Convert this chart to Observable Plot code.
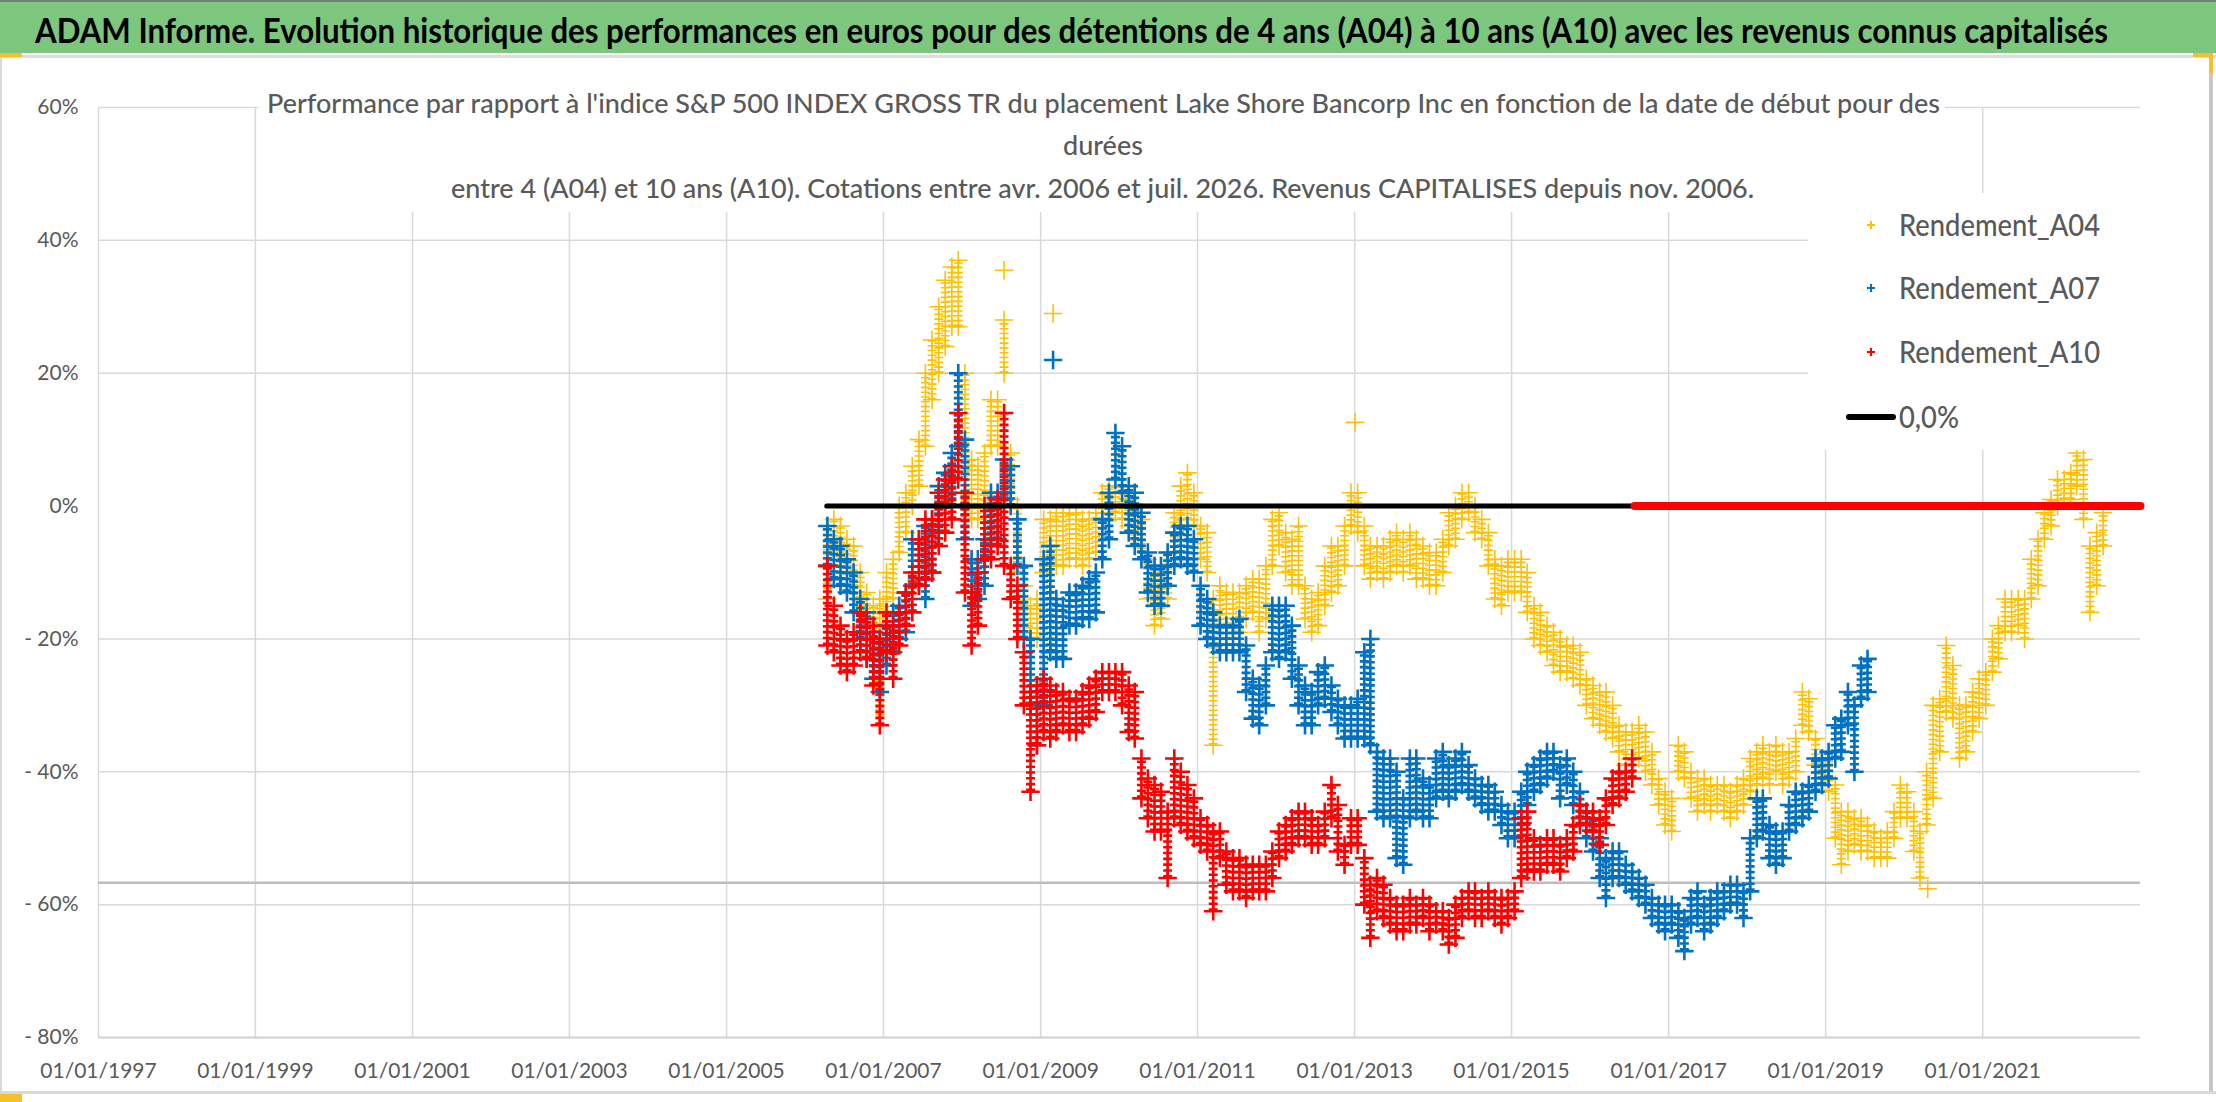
<!DOCTYPE html>
<html lang="fr">
<head>
<meta charset="utf-8">
<title>ADAM Informe – Lake Shore Bancorp Inc</title>
<script src="https://cdn.jsdelivr.net/npm/d3@7"></script>
<script src="https://cdn.jsdelivr.net/npm/@observablehq/plot@0.6"></script>
<style>
  html, body { margin: 0; padding: 0; background: #fff; }
  #frame { position: relative; width: 2216px; height: 1102px; overflow: hidden; background: #fff;
           font-family: Lato, "Open Sans", sans-serif; }
  #chart { position: absolute; left: 0; top: 0; }
  .box { position: absolute; background: #fff; }
  .label { position: absolute; white-space: nowrap; transform-origin: 0 0; }
  .line { position: absolute; }
</style>
</head>
<body>
<div id="frame">
  <div id="chart"></div>
</div>
<script>
// Monthly clouds: [lowest, highest] value in % for each month, from April 2006
const firstMonth = "2006-04-15";

const rendementA04 = [
  [-14,-3], [-9,-2], [-10,-3], [-11,-5], [-12,-6], [-16,-10], [-20,-13], [-22,-15], [-33,-14],
  [-16,-10], [-14,-8], [-7,0], [-4,2], [0,6], [3,10], [9,20], [16,25], [20,30], [24,34], [27,36], [27,37],
  [0,20], [-2,7], [-2,6], [0,8], [9,16], [9,16], [20,28], [1,8], [-10,0], [-18,-12], [-20,-15], [-20,-14],
  [-10,-2], [-9,-2], [-9,-1], [-9,-1], [-8,-1], [-8,-1], [-9,-2], [-8,-2], [-7,-1], [-2,2], [-2,3], [-1,3],
  [-2,2], [-3,1], [-6,0], [-8,-2], [-14,-8], [-18,-10], [-17,-10], [-14,-7], [-7,-1], [-3,3], [-2,5], [-3,2],
  [-8,-3], [-10,-4], [-36,-14], [-18,-12], [-20,-13], [-20,-13], [-19,-13], [-17,-12], [-16,-11], [-19,-11], [-17,-9], [-9,-2],
  [-6,-1], [-10,-4], [-12,-5], [-12,-3], [-17,-12], [-19,-14], [-18,-13], [-15,-9], [-13,-6], [-12,-6], [-9,-3], [-3,2],
  [-4,2], [-9,-3], [-11,-6], [-10,-6], [-11,-6], [-10,-5], [-9,-4], [-10,-5], [-9,-4], [-11,-5], [-11,-6], [-12,-7],
  [-12,-7], [-10,-5], [-6,-1], [-5,0], [-2,2], [-1,2], [-4,0], [-5,-2], [-9,-4], [-14,-8], [-15,-9], [-13,-8],
  [-13,-8], [-13,-8], [-16,-10], [-20,-15], [-21,-16], [-22,-18], [-24,-19], [-25,-20], [-25,-21], [-26,-21], [-27,-22], [-30,-26],
  [-32,-27], [-33,-28], [-34,-28], [-35,-30], [-37,-33], [-39,-34], [-39,-34], [-38,-33], [-40,-34], [-42,-37], [-45,-41], [-48,-43],
  [-49,-44], [-40,-36], [-41,-37], [-44,-40], [-46,-41], [-45,-41], [-46,-42], [-45,-42], [-46,-42], [-47,-43], [-46,-42], [-45,-41],
  [-43,-38], [-42,-37], [-41,-36], [-42,-37], [-40,-36], [-42,-37], [-41,-37], [-40,-35], [-33,-28], [-34,-29], [-39,-35], [-42,-38],
  [-43,-38], [-50,-42], [-54,-46], [-52,-46], [-51,-47], [-52,-47], [-52,-48], [-53,-49], [-53,-50], [-53,-49], [-50,-46], [-47,-42],
  [-47,-43], [-52,-46], [-56,-49], [-48,-40], [-44,-30], [-37,-29], [-31,-21], [-32,-24], [-38,-30], [-37,-30], [-34,-28], [-32,-26],
  [-30,-25], [-25,-20], [-23,-18], [-19,-14], [-19,-14], [-18,-14], [-20,-14], [-14,-8], [-12,-5], [-5,-1], [-3,1], [0,4],
  [1,4], [1,5], [3,8], [-2,7], [-16,-6], [-12,-4], [-6,-1]
];

const rendementA07 = [
  [-9,-3], [-11,-5], [-12,-6], [-13,-8], [-16,-10], [-20,-14], [-23,-16], [-26,-19], [-28,-20],
  [-24,-18], [-22,-16], [-20,-15], [-19,-13], [-12,-5], [-12,-5], [-14,-3], [-10,-2], [-4,3], [0,5], [0,8], [9,20],
  [-5,10], [-15,-8], [-14,-8], [-12,-5], [-6,2], [-5,2], [1,7], [0,6], [-9,-2], [-20,-9], [-30,-20], [-36,-27],
  [-30,-8], [-22,-6], [-23,-14], [-23,-15], [-18,-13], [-18,-13], [-17,-12], [-17,-11], [-16,-10], [-8,-2], [-5,2], [4,11],
  [2,9], [-4,3], [-6,2], [-8,-1], [-13,-7], [-15,-9], [-15,-9], [-12,-7], [-9,-4], [-8,-3], [-9,-3], [-10,-5],
  [-18,-12], [-20,-14], [-21,-16], [-22,-18], [-22,-18], [-22,-18], [-22,-17], [-28,-21], [-32,-26], [-33,-27], [-30,-24], [-22,-15],
  [-23,-15], [-22,-15], [-26,-18], [-30,-24], [-33,-27], [-33,-28], [-30,-25], [-29,-24], [-31,-27], [-33,-29], [-35,-30], [-35,-30],
  [-35,-29], [-35,-22], [-36,-20], [-46,-37], [-47,-38], [-47,-38], [-53,-40], [-54,-44], [-47,-38], [-46,-38], [-47,-41], [-47,-42],
  [-44,-38], [-43,-37], [-44,-39], [-43,-38], [-42,-37], [-43,-39], [-44,-41], [-45,-42], [-46,-42], [-46,-43], [-48,-45], [-50,-46],
  [-50,-46], [-48,-43], [-45,-40], [-43,-39], [-42,-38], [-41,-37], [-40,-37], [-44,-39], [-42,-38], [-45,-40], [-47,-43], [-50,-46],
  [-52,-47], [-56,-50], [-59,-53], [-56,-52], [-56,-52], [-57,-54], [-58,-55], [-59,-56], [-60,-57], [-62,-59], [-63,-60], [-64,-60],
  [-63,-60], [-65,-61], [-67,-62], [-63,-59], [-62,-58], [-64,-60], [-63,-59], [-62,-58], [-61,-58], [-60,-57], [-60,-57], [-62,-58],
  [-58,-50], [-50,-44], [-49,-44], [-53,-48], [-54,-49], [-53,-49], [-49,-45], [-48,-43], [-47,-43], [-46,-42], [-43,-38], [-42,-38],
  [-41,-37], [-38,-33], [-37,-32], [-33,-28], [-40,-30], [-29,-24], [-28,-23]
];

const rendementA10 = [
  [-21,-9], [-22,-15], [-24,-18], [-25,-20], [-24,-19], [-22,-16], [-23,-17], [-27,-18], [-33,-20],
  [-22,-16], [-26,-18], [-21,-16], [-18,-13], [-16,-10], [-12,-5], [-11,-2], [-10,-2], [-6,2], [-4,4], [-2,6], [4,14],
  [-13,2], [-21,-13], [-18,-10], [-8,0], [-8,0], [-6,1], [-9,14], [-14,-9], [-20,-12], [-30,-22], [-43,-28], [-36,-27],
  [-34,-26], [-35,-27], [-34,-28], [-33,-28], [-34,-29], [-34,-29], [-33,-28], [-32,-27], [-31,-26], [-28,-25], [-28,-25], [-28,-25],
  [-30,-25], [-34,-27], [-35,-28], [-44,-38], [-47,-41], [-49,-42], [-49,-43], [-56,-46], [-47,-38], [-48,-40], [-49,-42], [-50,-44],
  [-51,-47], [-52,-48], [-61,-49], [-53,-49], [-57,-52], [-58,-53], [-58,-53], [-59,-54], [-58,-54], [-58,-54], [-58,-54], [-56,-52],
  [-53,-49], [-52,-48], [-51,-47], [-50,-46], [-50,-46], [-51,-47], [-51,-48], [-50,-46], [-47,-42], [-52,-45], [-54,-51], [-51,-47],
  [-51,-47], [-60,-53], [-65,-57], [-61,-56], [-62,-57], [-63,-59], [-64,-60], [-64,-60], [-63,-59], [-63,-60], [-62,-59], [-64,-60],
  [-63,-61], [-64,-61], [-66,-62], [-65,-60], [-62,-59], [-61,-58], [-62,-58], [-62,-59], [-61,-58], [-62,-59], [-63,-59], [-62,-59],
  [-61,-58], [-56,-47], [-55,-46], [-55,-50], [-55,-51], [-54,-50], [-54,-50], [-55,-51], [-53,-50], [-52,-48], [-48,-45], [-48,-46],
  [-49,-46], [-51,-47], [-48,-44], [-45,-41], [-44,-40], [-43,-40], [-41,-38]
];

// isolated crosses outside the monthly clouds
const outliersA04 = [["2008-07-15", 35.5], ["2009-02-28", 29], ["2013-01-03", 12.6], ["2020-04-20", -57.6]];
const outliersA07 = [["2009-02-28", 22]];

// the 0,0% reference (black) and the flat A10 run at 0 after mid-2016 (red)
const zeroLine = [["2006-04-12", 0], ["2016-07-26", 0]];
const flatA10 = [["2016-07-26", 0], ["2023-01-05", 0]];

const seriesNames = ["Rendement_A04", "Rendement_A07", "Rendement_A10"];
const seriesColors = ["#FFC000", "#0070C0", "#FF0000"];

const yTicks = [60, 40, 20, 0, -20, -40, -60, -80];
const yGrid = [60, 40, 20, -20, -40, -60];
const lowLine = -56.7;
const xTicks = ["1997-01-01", "1999-01-01", "2001-01-01", "2003-01-01", "2005-01-01", "2007-01-01",
  "2009-01-01", "2011-01-01", "2013-01-01", "2015-01-01", "2017-01-01", "2019-01-01", "2021-01-01"];
const xDomain = ["1997-01-01", "2023-01-05"];

const titleText = "ADAM Informe. Evolution historique des performances en euros pour des détentions de 4 ans (A04) à 10 ans (A10) avec les revenus connus capitalisés";
const subtitleLines = [
  "Performance par rapport à l'indice S&P 500 INDEX GROSS TR  du placement Lake Shore Bancorp Inc en fonction de la date de début pour des",
  "durées",
  "entre 4 (A04) et 10 ans (A10). Cotations entre avr. 2006 et juil. 2026. Revenus CAPITALISES depuis nov. 2006."
];

const parse = d3.utcParse("%Y-%m-%d");

function monthly(pairs) {
  const start = parse(firstMonth);
  return pairs.map(([lo, hi], i) => ({date: d3.utcMonth.offset(start, i), lo, hi}));
}
function ends(rows) {
  return rows.flatMap(d => [{date: d.date, v: d.lo}, {date: d.date, v: d.hi}]);
}
function points(list) {
  return list.map(([d, v]) => ({date: parse(d), v}));
}

const a04 = monthly(rendementA04);
const a07 = monthly(rendementA07);
const a10 = monthly(rendementA10);

function pct(v) {
  return v < 0 ? "- " + Math.abs(v) + "%" : v + "%";
}

// a month's cloud: a stack of short horizontal arms plus a vertical stem, capped by crosses
function cloud(rows, color, width, extra) {
  return [
    Plot.ruleX(rows, {x: "date", y1: "lo", y2: "hi", stroke: color, strokeWidth: 9,
      strokeDasharray: `${width} 3.2`}),
    Plot.ruleX(rows, {x: "date", y1: "lo", y2: "hi", stroke: color, strokeWidth: width}),
    Plot.dot(ends(rows), {x: "date", y: "v", symbol: "plus", r: 6, stroke: color, strokeWidth: width}),
    Plot.dot(points(extra), {x: "date", y: "v", symbol: "plus", r: 6, stroke: color, strokeWidth: width})
  ];
}

const chart = Plot.plot({
  width: 2216,
  height: 1102,
  marginLeft: 98,
  marginRight: 76,
  marginTop: 107,
  marginBottom: 65,
  style: {fontFamily: "Lato, 'Open Sans', sans-serif", background: "transparent"},
  x: {type: "utc", domain: xDomain.map(parse)},
  y: {domain: [-80, 60]},
  marks: [
    Plot.ruleX(xTicks.map(parse), {stroke: "#d9d9d9", strokeWidth: 1.5}),
    Plot.ruleY(yGrid, {stroke: "#d9d9d9", strokeWidth: 1.5}),
    Plot.ruleY([-80], {stroke: "#d0d0d0", strokeWidth: 2}),
    Plot.ruleY([lowLine], {stroke: "#bdbdbd", strokeWidth: 2.5}),
    ...cloud(a04, seriesColors[0], 1.6, outliersA04),
    ...cloud(a07, seriesColors[1], 2.6, outliersA07),
    ...cloud(a10, seriesColors[2], 2.6, []),
    Plot.line(points(zeroLine), {x: "date", y: "v", stroke: "#000", strokeWidth: 5}),
    Plot.line(points(flatA10), {x: "date", y: "v", stroke: seriesColors[2], strokeWidth: 8, strokeLinecap: "round"}),
    Plot.axisY(yTicks, {tickSize: 0, tickPadding: 20, tickFormat: pct, fontSize: 21, color: "#595959"}),
    Plot.axisX(xTicks.map(parse), {tickSize: 0, tickPadding: 26, tickFormat: d3.utcFormat("%d/%m/%Y"),
      fontSize: 21, color: "#595959"})
  ]
});
document.getElementById("chart").appendChild(chart);

// frame decorations, title band, subtitle and legend laid over the svg
const frame = document.getElementById("frame");

function addBlock(cls, x, y, w, h, bg) {
  const el = document.createElement("div");
  el.className = cls;
  Object.assign(el.style, {left: x + "px", top: y + "px", width: w + "px", height: h + "px"});
  if (bg) el.style.background = bg;
  frame.appendChild(el);
  return el;
}

function addText(str, o) {
  const el = document.createElement("div");
  el.className = "label";
  el.textContent = str;
  Object.assign(el.style, {fontSize: o.size + "px", lineHeight: o.size + "px",
    fontWeight: o.weight || 400, color: o.color || "#595959"});
  frame.appendChild(el);
  const w = el.getBoundingClientRect().width;
  const k = o.scale || (o.width ? o.width / w : 1);
  el.style.top = (o.baseline - 0.887 * o.size) + "px";
  el.style.left = (o.anchor === "middle" ? o.x - w * k / 2 : o.x) + "px";
  el.style.transform = `scaleX(${k})`;
  return k;
}

addBlock("line", 0, 0, 2216, 53, "#7dc67e");
addBlock("line", 0, 0, 2216, 2, "#7a7a7a");
addBlock("line", 0, 55, 2216, 3, "#dcdcdc");
addBlock("line", 0, 58, 2, 1034, "#d9d9d9");
addBlock("line", 2209, 53, 4, 1040, "#c8c8c8");
addBlock("line", 0, 1091, 2216, 3, "#d9d9d9");
addBlock("line", 0, 53, 22, 4, "#f6c02a");
addBlock("line", 2193, 53, 20, 4, "#f6c02a");
addBlock("line", 2209, 53, 4, 20, "#f6c02a");
addBlock("line", 0, 1094, 22, 8, "#f6c02a");

addText(titleText, {x: 35, baseline: 43, size: 34, weight: 700, color: "#000", width: 2073});

addBlock("box", 258, 100, 1687, 112);
const k = addText(subtitleLines[0], {x: 1103, baseline: 113, size: 27, weight: 500, anchor: "middle", width: 1673});
addText(subtitleLines[1], {x: 1103, baseline: 155, size: 27, weight: 500, anchor: "middle", scale: k});
addText(subtitleLines[2], {x: 1103, baseline: 198, size: 27, weight: 500, anchor: "middle", scale: k});

addBlock("box", 1808, 193, 340, 257);
const legendRows = [225, 288, 352];
let kl = 1;
seriesNames.forEach((name, i) => {
  const y = legendRows[i];
  const arm = 4, t = i === 0 ? 1.5 : 2.5;
  addBlock("line", 1871 - arm, y - t / 2, arm * 2, t, seriesColors[i]);
  addBlock("line", 1871 - t / 2, y - arm, t, arm * 2, seriesColors[i]);
  const s = addText(name, {x: 1899, baseline: y + 11, size: 30, weight: 500, width: i === 0 ? 201 : undefined, scale: i ? kl : undefined});
  if (i === 0) kl = s;
});
addBlock("line", 1846, 414, 50, 6, "#000").style.borderRadius = "3px";
addText("0,0%", {x: 1899, baseline: 428, size: 30, weight: 500, scale: kl});
</script>
</body>
</html>
